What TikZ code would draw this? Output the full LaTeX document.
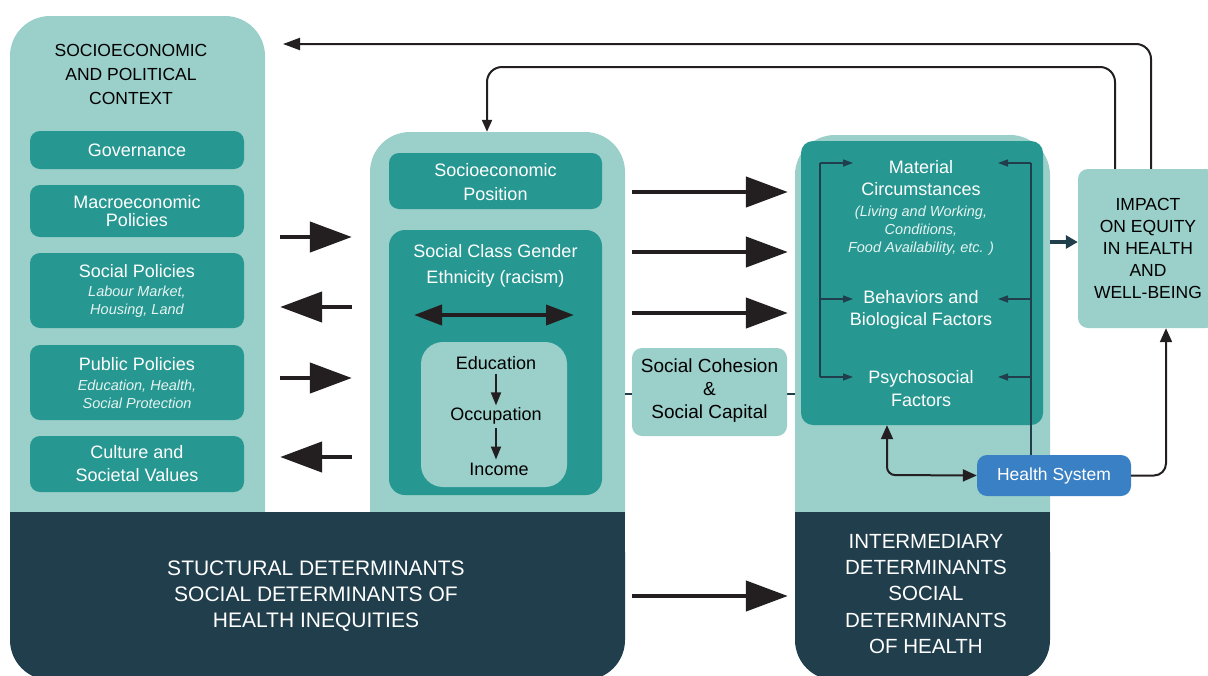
\documentclass[tikz,border=0pt]{standalone}
\usepackage{fontspec}
\setmainfont{Liberation Sans}
\usetikzlibrary{arrows.meta}
\definecolor{lightteal}{HTML}{9ACFCA}
\definecolor{darkteal}{HTML}{279891}
\definecolor{navy}{HTML}{213E4C}
\definecolor{hsblue}{HTML}{3A80C4}
\definecolor{arrowblack}{HTML}{231F20}
\definecolor{paletext}{HTML}{E6F3F1}
\newcommand\fs[2]{\fontsize{#1}{#2}\selectfont}
\begin{document}
\begin{tikzpicture}[x=1pt,y=-1pt,
  col/.style={fill=lightteal, rounded corners=40pt, inner sep=0pt},
  navybox/.style={fill=navy, rounded corners=40pt, inner sep=0pt},
  dbox/.style={fill=darkteal, rounded corners=10pt, inner sep=0pt},
  lbox/.style={fill=lightteal, rounded corners=10pt, inner sep=0pt},
  wtxt/.style={align=center, inner sep=0pt, text=white, font=\fs{18}{20}},
  btxt/.style={align=center, inner sep=0pt, text=black, font=\fs{18}{20}},
  itxt/.style={align=center, inner sep=0pt, text=paletext, font=\fs{14.5}{18}\itshape},
  bigarrow/.style={draw=arrowblack, line width=4.5pt, -{Triangle[length=42pt,width=30pt]}},
  thinarrow/.style={draw=navy, line width=1.3pt, -{Triangle[length=10pt,width=7pt]}},
  fbarrow/.style={draw=arrowblack, line width=2pt, rounded corners=15pt},
]
\useasboundingbox (0,0) rectangle (1208,675);

% ---------- columns ----------
\node[col, minimum width=255pt, minimum height=544pt] (leftcol) at (137.5,288) {};
\node[col, minimum width=255pt, minimum height=428pt] (midcol) at (497.5,346) {};
\node[col, minimum width=255pt, minimum height=425pt] (rightcol) at (922.5,347.5) {};

% ---------- bottom bands ----------
\node[navybox, minimum width=615pt, minimum height=168pt] (struct) at (317.5,596) {};
\fill[navy] (struct.north west) rectangle (struct.east);
\node[navybox, minimum width=255pt, minimum height=168pt] (inter) at (922.5,596) {};
\fill[navy] (inter.north west) rectangle (inter.east);
\node[wtxt, font=\fs{21}{26}] (structtxt) at (316,596) {STUCTURAL DETERMINANTS\\SOCIAL DETERMINANTS OF\\HEALTH INEQUITIES};
\node[wtxt, font=\fs{20.5}{26.3}] (intertxt) at (926,594) {INTERMEDIARY\\DETERMINANTS\\SOCIAL\\DETERMINANTS\\OF HEALTH};

% ---------- left column ----------
\node[btxt, font=\fs{17.5}{24}] (lctitle) at (131,74) {SOCIOECONOMIC\\AND POLITICAL\\CONTEXT};
\node[dbox, minimum width=214pt, minimum height=38pt] (gov) at (137,150) {};
\node[wtxt] at (gov) {Governance};
\node[dbox, minimum width=214pt, minimum height=52pt] (macro) at (137,211) {};
\node[wtxt, font=\fs{18}{18.5}] at (macro) {Macroeconomic\\Policies};
\node[dbox, minimum width=214pt, minimum height=75pt] (socpol) at (137,290.5) {};
\node[wtxt] at (137,271) {Social Policies};
\node[itxt] at (137,302) {Labour Market,\\Housing, Land};
\node[dbox, minimum width=214pt, minimum height=75pt] (pubpol) at (137,382.5) {};
\node[wtxt] at (137,364) {Public Policies};
\node[itxt] at (137,394) {Education, Health,\\Social Protection};
\node[dbox, minimum width=214pt, minimum height=56pt] (culture) at (137,464) {};
\node[wtxt, font=\fs{18}{23}] at (culture) {Culture and\\Societal Values};

% ---------- arrows left <-> middle ----------
\coordinate (ya) at (0,237);
\coordinate (yb) at (0,307);
\coordinate (yc) at (0,378);
\coordinate (yd) at (0,457);
\draw[bigarrow, shorten <=15pt, shorten >=18pt] (leftcol.east |- ya) -- (midcol.west |- ya);
\draw[bigarrow, shorten <=18pt, shorten >=15pt] (midcol.west |- yb) -- (leftcol.east |- yb);
\draw[bigarrow, shorten <=15pt, shorten >=18pt] (leftcol.east |- yc) -- (midcol.west |- yc);
\draw[bigarrow, shorten <=18pt, shorten >=15pt] (midcol.west |- yd) -- (leftcol.east |- yd);

% ---------- middle column ----------
\node[dbox, minimum width=213pt, minimum height=56pt] (sep) at (495.5,181) {};
\node[wtxt, font=\fs{18}{24}] at (495.5,182) {Socioeconomic\\Position};
\node[dbox, rounded corners=16pt, minimum width=213pt, minimum height=265pt] (scg) at (495.5,362.5) {};
\node[wtxt, font=\fs{18}{26}] (scgtxt) at (495.5,266) {Social Class Gender\\Ethnicity (racism)};
\coordinate (dl) at (414,315);
\coordinate (dr) at (574,315);
\draw[draw=arrowblack, line width=4pt, {Triangle[length=28pt,width=20pt]}-{Triangle[length=28pt,width=20pt]}] (dl) -- (dr);
\node[lbox, rounded corners=22pt, minimum width=146pt, minimum height=145pt] (eoi) at (494,414.5) {};
\node[btxt] (edu) at (496,363) {Education};
\node[btxt] (occ) at (496,416) {Occupation};
\node[btxt] (inc) at (499,469) {Income};
\draw[draw=arrowblack, line width=1.8pt, -{Triangle[length=13pt,width=10pt]}, shorten <=4pt, shorten >=2pt] (edu.south -| occ) -- (occ.north);
\draw[draw=arrowblack, line width=1.8pt, -{Triangle[length=13pt,width=10pt]}, shorten <=3pt, shorten >=3pt] (occ.south) -- (inc.north -| occ);

% ---------- arrows middle -> right ----------
\coordinate (ye) at (0,192);
\coordinate (yf) at (0,252);
\coordinate (yg) at (0,313);
\coordinate (yh) at (0,394);
\draw[bigarrow, shorten <=7pt, shorten >=7pt] (midcol.east |- ye) -- (rightcol.west |- ye);
\draw[bigarrow, shorten <=7pt, shorten >=7pt] (midcol.east |- yf) -- (rightcol.west |- yf);
\draw[bigarrow, shorten <=7pt, shorten >=7pt] (midcol.east |- yg) -- (rightcol.west |- yg);
\draw[bigarrow, shorten <=7pt, shorten >=7pt] (struct.east) -- (inter.west);

% ---------- social cohesion ----------
\draw[navy, line width=1.5pt] (midcol.east |- yh) -- (rightcol.west |- yh);
\node[lbox, minimum width=155pt, minimum height=88pt] (cohesion) at (709.5,392) {};
\node[btxt, font=\fs{19}{23}] at (709.5,390.5) {Social Cohesion\\\&\\Social Capital};

% ---------- right column ----------
\node[dbox, rounded corners=12pt, minimum width=242pt, minimum height=284pt] (inner) at (922,283) {};
\node[wtxt, font=\fs{18}{22}] (mat) at (921,178) {Material\\Circumstances};
\node[itxt] (matsub) at (921,231) {(Living and Working,\\Conditions,\\Food Availability, etc. )};
\node[wtxt, font=\fs{18}{22}] (beh) at (921,310) {Behaviors and\\Biological Factors};
\node[wtxt, font=\fs{18}{23}] (psy) at (921,389) {Psychosocial\\Factors};

\coordinate (L1) at (820,163);
\coordinate (L2) at (820,299);
\coordinate (L3) at (820,377);
\coordinate (R1) at (1031,163);
\coordinate (R2) at (1031,299);
\coordinate (R3) at (1031,377);
\draw[navy, line width=1.3pt] (L1) -- (L3);
\draw[thinarrow] (L1) -- ++(33,0);
\draw[thinarrow] (L2) -- ++(33,0);
\draw[thinarrow] (L3) -- ++(33,0);

\node[fill=hsblue, rounded corners=10pt, inner sep=0pt, minimum width=154pt, minimum height=41pt] (hs) at (1054,475.5) {};
\node[wtxt, font=\fs{17.5}{20}] at (hs) {Health System};
\draw[navy, line width=1.3pt] (R1) -- (hs.north -| R1);
\draw[thinarrow] (R1) -- ++(-33,0);
\draw[thinarrow] (R2) -- ++(-33,0);
\draw[thinarrow] (R3) -- ++(-33,0);

% impact box
\node[lbox, minimum width=138pt, minimum height=159pt] (impact) at (1147,248.5) {};
\node[btxt, font=\fs{17.5}{22.2}] at (1148,248.5) {IMPACT\\ON EQUITY\\IN HEALTH\\AND\\WELL-BEING};

\coordinate (ypsy) at (0,475);
\coordinate (xpsy) at (887,0);
\draw[draw=arrowblack, line width=2pt, rounded corners=8pt,
  {Triangle[length=14pt,width=12pt]}-{Triangle[length=14pt,width=12pt]}]
  (inner.south -| xpsy) -- (xpsy |- ypsy) -- (hs.west);
\coordinate (xhs) at (1166,0);
\draw[draw=arrowblack, line width=2pt, rounded corners=12pt, -{Triangle[length=14pt,width=12pt]}]
  (hs.east) -- (xhs |- hs.east) -- (xhs |- impact.south);

% right col -> impact
\coordinate (yimp) at (0,242);
\draw[draw=navy, line width=4pt, -{Triangle[length=12pt,width=13pt]}] (rightcol.east |- yimp) -- (impact.west |- yimp);

% ---------- feedback loops ----------
\coordinate (yin) at (0,67);
\coordinate (yout) at (0,44);
\coordinate (xin) at (1115,0);
\coordinate (xout) at (1151,0);
\coordinate (xmid) at (487,0);
\coordinate (xleft) at (283,0);
\draw[fbarrow, -{Triangle[length=12pt,width=10pt]}]
  (impact.north -| xin) -- (xin |- yin) -- (xmid |- yin) -- (midcol.north -| xmid);
\draw[fbarrow, -{Triangle[length=17pt,width=12pt]}]
  (impact.north -| xout) -- (xout |- yout) -- (xleft |- yout);
\end{tikzpicture}
\end{document}
